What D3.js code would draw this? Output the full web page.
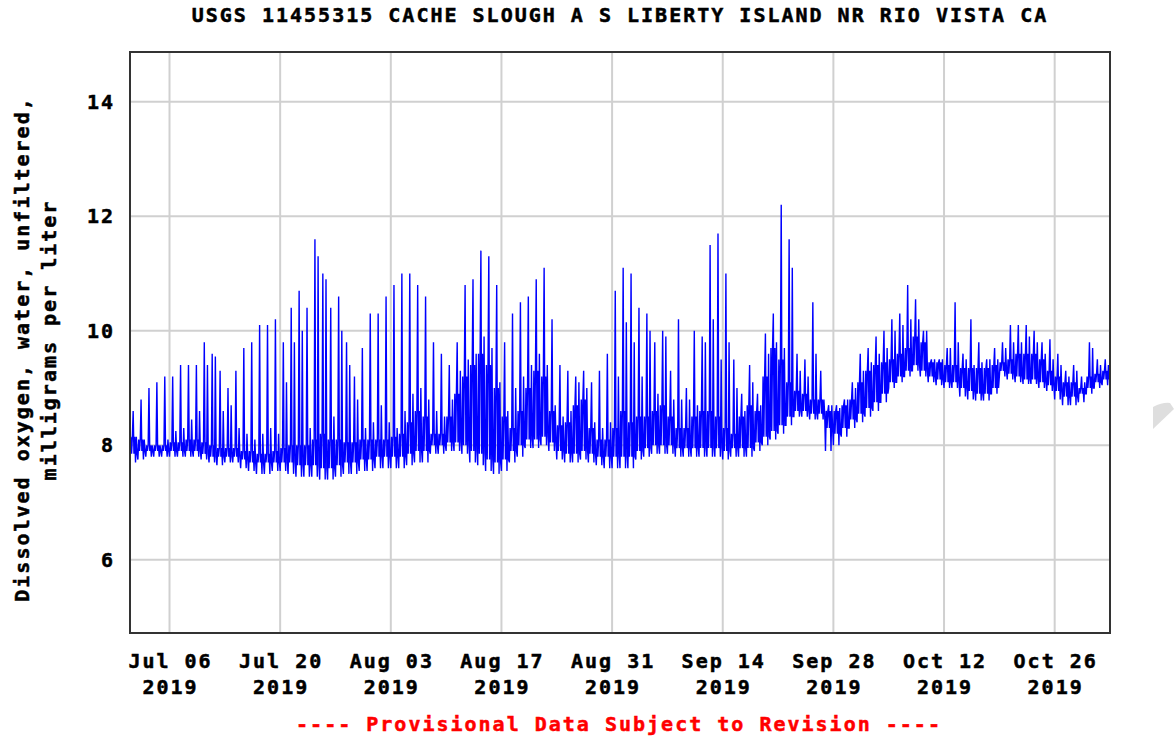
<!DOCTYPE html>
<html>
<head>
<meta charset="utf-8">
<script src="https://cdn.jsdelivr.net/npm/d3@7"></script>
<style>
  body { margin: 0; background: #fff; }
  text { font-family: "DejaVu Sans Mono", monospace; font-weight: bold; }
</style>
</head>
<body>
<script>
var width = 1176;
var height = 740;

// Dissolved oxygen, one entry per day starting Jul 1 2019
// lo = lowest dips, floor = bottom of the solid band, band = top of the solid band,
// sub = second spike of the day, pk = main daily spike
var startDay = new Date(2019, 6, 1);
var lo = [7.7, 7.75, 7.8, 7.8, 7.8, 7.8, 7.8, 7.8, 7.8, 7.75,
  7.7, 7.65, 7.7, 7.7, 7.6, 7.55, 7.5, 7.5, 7.55, 7.55,
  7.5, 7.45, 7.45, 7.45, 7.4, 7.4, 7.45, 7.5, 7.5, 7.55,
  7.55, 7.6, 7.6, 7.6, 7.6, 7.65, 7.7, 7.7, 7.85, 7.85,
  7.9, 7.9, 7.85, 7.7, 7.65, 7.55, 7.5, 7.55, 7.7, 7.8,
  7.95, 7.95, 8.0, 7.9, 7.75, 7.7, 7.7, 7.75, 7.7, 7.65,
  7.6, 7.6, 7.6, 7.6, 7.75, 7.8, 7.85, 7.85, 7.85, 7.8,
  7.8, 7.8, 7.8, 7.8, 7.8, 7.75, 7.8, 7.8, 7.8, 7.9,
  8.0, 8.1, 8.2, 8.35, 8.5, 8.5, 8.45, 8.45, 7.9, 8.0,
  8.15, 8.3, 8.4, 8.5, 8.6, 8.75, 9.0, 9.1, 9.2, 9.3,
  9.2, 9.1, 9.05, 9.0, 9.0, 8.85, 8.8, 8.78, 8.78, 8.9,
  9.2, 9.15, 9.1, 9.07, 9.07, 9.0, 8.95, 8.8, 8.7, 8.7,
  8.75, 8.9, 9.0, 9.05];
var floor = [7.85, 7.9, 7.9, 7.9, 7.9, 7.9, 7.9, 7.9, 7.9, 7.85,
  7.8, 7.8, 7.8, 7.8, 7.75, 7.7, 7.7, 7.7, 7.7, 7.7,
  7.7, 7.65, 7.65, 7.65, 7.6, 7.6, 7.65, 7.7, 7.7, 7.75,
  7.75, 7.8, 7.8, 7.8, 7.8, 7.85, 7.9, 7.9, 8.0, 8.0,
  8.05, 8.05, 8.0, 7.9, 7.85, 7.75, 7.7, 7.75, 7.9, 8.0,
  8.1, 8.1, 8.15, 8.05, 7.9, 7.85, 7.85, 7.9, 7.85, 7.8,
  7.8, 7.8, 7.8, 7.8, 7.9, 7.95, 8.0, 8.0, 8.0, 7.95,
  7.95, 7.95, 7.95, 7.95, 7.95, 7.9, 7.95, 7.95, 7.95, 8.05,
  8.15, 8.25, 8.35, 8.5, 8.6, 8.6, 8.55, 8.55, 8.3, 8.2,
  8.3, 8.45, 8.55, 8.65, 8.75, 8.9, 9.1, 9.2, 9.3, 9.4,
  9.3, 9.2, 9.15, 9.1, 9.1, 9.0, 8.95, 8.9, 8.9, 9.0,
  9.3, 9.25, 9.2, 9.15, 9.15, 9.1, 9.05, 8.95, 8.85, 8.85,
  8.9, 9.0, 9.1, 9.15];
var band = [8.15, 8.1, 8.0, 8.0, 8.0, 8.05, 8.05, 8.1, 8.1, 8.05,
  8.0, 7.95, 7.95, 7.95, 7.9, 7.9, 7.85, 7.85, 7.9, 7.95,
  8.0, 8.0, 8.0, 8.1, 8.2, 8.1, 8.1, 8.05, 8.05, 8.1,
  8.1, 8.1, 8.1, 8.15, 8.2, 8.4, 8.6, 8.5, 8.2, 8.2,
  8.5, 8.9, 9.2, 9.4, 9.6, 9.4, 9.0, 8.5, 8.3, 8.6,
  9.0, 9.3, 9.2, 8.6, 8.35, 8.4, 8.7, 8.8, 8.3, 8.1,
  8.1, 8.3, 8.6, 8.4, 8.5, 8.5, 8.6, 8.7, 8.5, 8.3,
  8.3, 8.5, 8.6, 8.6, 8.5, 8.3, 8.2, 8.5, 8.7, 8.6,
  9.2, 9.7, 9.5, 9.1, 8.95, 8.9, 8.8, 8.8, 8.6, 8.6,
  8.7, 8.8, 9.1, 9.3, 9.4, 9.45, 9.5, 9.6, 9.7, 9.9,
  9.8, 9.45, 9.45, 9.4, 9.4, 9.35, 9.35, 9.35, 9.35, 9.4,
  9.45, 9.5, 9.6, 9.6, 9.6, 9.5, 9.3, 9.2, 9.1, 9.1,
  9.0, 9.2, 9.25, 9.3];
var sub = [8.15, 8.1, 8.0, 8.0, 8.1, 8.25, 8.3, 8.45, 8.6, 9.4,
  9.55, 8.6, 8.7, 8.3, 8.2, 8.1, 8.2, 8.3, 8.2, 9.1,
  9.8, 10.0, 8.3, 11.3, 10.9, 8.5, 10.0, 9.4, 8.8, 8.3,
  8.4, 8.7, 8.4, 8.3, 8.6, 8.9, 9.0, 8.8, 8.6, 8.5,
  8.8, 9.3, 9.5, 9.6, 9.9, 9.7, 9.1, 8.6, 9.0, 9.2,
  9.4, 9.6, 9.4, 8.7, 8.5, 8.6, 9.1, 9.0, 8.4, 8.3,
  8.4, 9.2, 10.15, 9.8, 9.2, 10.0, 8.9, 9.9, 8.8, 8.8,
  8.8, 8.7, 9.8, 10.2, 9.5, 9.8, 9.0, 8.6, 9.1, 8.7,
  9.6, 9.8, 9.7, 11.1, 9.3, 9.2, 9.6, 8.8, 8.7, 8.65,
  8.8, 9.0, 9.3, 9.45, 9.6, 9.7, 10.0, 10.1, 10.2, 10.2,
  10.0, 9.5, 9.5, 9.7, 9.8, 9.5, 9.4, 9.45, 9.5, 9.5,
  9.7, 9.8, 9.8, 9.9, 9.8, 9.6, 9.5, 9.4, 9.2, 9.3,
  9.1, 9.7, 9.4, 9.4];
var pk = [8.6, 8.8, 9.0, 9.1, 9.2, 9.2, 9.4, 9.4, 9.4, 9.8,
  9.6, 9.3, 9.0, 9.3, 9.7, 9.8, 10.1, 10.1, 10.2, 9.8,
  10.4, 10.7, 10.4, 11.6, 11.0, 10.4, 10.6, 9.8, 9.2, 9.7,
  10.3, 10.3, 10.6, 10.8, 11.0, 11.0, 10.8, 10.6, 9.8, 9.6,
  9.4, 9.8, 10.8, 10.9, 11.4, 11.3, 10.8, 9.8, 10.3, 10.5,
  10.6, 10.9, 11.1, 10.2, 9.4, 9.3, 9.2, 9.3, 9.1, 9.3,
  9.6, 10.7, 11.1, 11.0, 10.4, 10.3, 9.8, 10.0, 9.3, 10.2,
  9.0, 10.0, 9.9, 11.5, 11.7, 11.0, 9.5, 8.9, 9.4, 8.9,
  9.95, 10.3, 12.2, 11.6, 9.6, 9.5, 10.5, 9.3, 8.7, 8.7,
  8.8, 9.1, 9.6, 9.7, 9.9, 10.0, 10.2, 10.3, 10.8, 10.55,
  10.0, 9.5, 9.5, 9.7, 10.5, 9.6, 10.2, 9.8, 9.5, 9.7,
  9.8, 10.1, 10.1, 10.1, 10.0, 9.8, 9.85, 9.6, 9.3, 9.4,
  9.2, 9.8, 9.5, 9.5];

var yTicks = [6, 8, 10, 12, 14];
var xTickDates = ["2019-07-06", "2019-07-20", "2019-08-03", "2019-08-17", "2019-08-31",
  "2019-09-14", "2019-09-28", "2019-10-12", "2019-10-26"];
var titleText = "USGS 11455315 CACHE SLOUGH A S LIBERTY ISLAND NR RIO VISTA CA";
var yLabel = ["Dissolved oxygen, water, unfiltered,", "milligrams per liter"];
var footer = "---- Provisional Data Subject to Revision ----";

var x = d3.scaleTime()
  .domain([new Date(2019, 6, 1), new Date(2019, 10, 2)])
  .range([130, 1110]);
var y = d3.scaleLinear().domain([4.72, 14.87]).range([633, 52]);

var svg = d3.select("body").append("svg")
  .attr("width", width).attr("height", height);

// faint gray mark at the right edge of the screenshot
svg.append("path")
  .attr("d", "M1153,407 Q1163,402 1170,403 L1174,409 L1153,429 Z")
  .style("fill", "#dedede");

// grid
var parse = d3.timeParse("%Y-%m-%d");
var xTicks = xTickDates.map(parse);
svg.append("g").selectAll("line").data(xTicks).enter().append("line")
  .attr("x1", function (d) { return x(d); }).attr("x2", function (d) { return x(d); })
  .attr("y1", 52).attr("y2", 633)
  .style("stroke", "#d0d0d0").style("stroke-width", 2);
svg.append("g").selectAll("line").data(yTicks).enter().append("line")
  .attr("x1", 130).attr("x2", 1110)
  .attr("y1", function (d) { return y(d); }).attr("y2", function (d) { return y(d); })
  .style("stroke", "#d0d0d0").style("stroke-width", 2);

// build the series: each day holds ten readings in this order
var order = [lo, band, floor, band, pk, floor, band, lo, sub, floor];
var series = [];
lo.forEach(function (v, i) {
  order.forEach(function (arr, j) {
    series.push({ t: d3.timeMinute.offset(startDay, (i * 10 + j) * 144), v: arr[i] });
  });
});

var line = d3.line()
  .x(function (d) { return x(d.t); })
  .y(function (d) { return y(d.v); });

svg.append("clipPath").attr("id", "clip").append("rect")
  .attr("x", 130).attr("y", 52).attr("width", 980).attr("height", 581);

svg.append("path")
  .datum(series)
  .attr("d", line)
  .attr("clip-path", "url(#clip)")
  .style("fill", "none")
  .style("stroke", "#0000ff")
  .style("stroke-width", 1.4);

// frame
svg.append("rect")
  .attr("x", 130).attr("y", 52).attr("width", 980).attr("height", 581)
  .style("fill", "none").style("stroke", "#333").style("stroke-width", 2);

function styleText(sel) {
  sel.style("font-size", "20px").style("letter-spacing", "2px")
    .style("stroke", "currentColor").style("stroke-width", "0.5px");
}

// y tick labels
svg.append("g").selectAll("text").data(yTicks).enter().append("text")
  .attr("x", 115).attr("y", function (d) { return y(d) + 7; })
  .attr("text-anchor", "end")
  .call(styleText)
  .text(function (d) { return d; });

// x tick labels
var fmt = d3.timeFormat("%b %d");
var xl = svg.append("g").selectAll("text").data(xTicks).enter().append("text")
  .attr("text-anchor", "middle")
  .call(styleText);
xl.append("tspan").attr("x", function (d) { return x(d) + 1; }).attr("y", 668)
  .text(function (d) { return fmt(d); });
xl.append("tspan").attr("x", function (d) { return x(d) + 1; }).attr("y", 694)
  .text(function (d) { return d.getFullYear(); });

// title
svg.append("text")
  .attr("x", 620).attr("y", 22).attr("text-anchor", "middle")
  .call(styleText)
  .text(titleText);

// y axis label
svg.append("text")
  .attr("transform", "translate(29,349) rotate(-90)")
  .attr("text-anchor", "middle")
  .call(styleText)
  .text(yLabel[0]);
svg.append("text")
  .attr("transform", "translate(56,340) rotate(-90)")
  .attr("text-anchor", "middle")
  .call(styleText)
  .text(yLabel[1]);

// footer
svg.append("text")
  .attr("x", 619).attr("y", 731).attr("text-anchor", "middle")
  .style("fill", "#ff0000").style("color", "#ff0000")
  .call(styleText)
  .text(footer);
</script>
</body>
</html>
